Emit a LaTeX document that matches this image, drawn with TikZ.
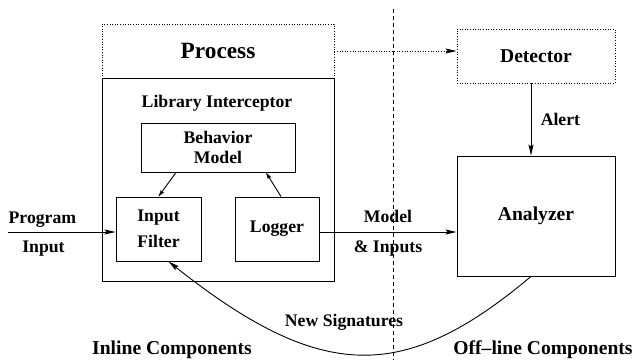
\documentclass[tikz,border=0pt]{standalone}
\usepackage{fontspec}
\setmainfont{Liberation Serif}
\usetikzlibrary{arrows.meta,positioning}

\begin{document}
\begin{tikzpicture}[
  x=1pt,
  y=-1pt,
  line width=0.9pt,
  font=\bfseries\fontsize{17.7}{20}\selectfont,
  box/.style 2 args={
    draw,
    minimum width=#1,
    minimum height=#2,
    inner sep=0pt,
    align=center
  },
  dotbox/.style={
    dash pattern=on 0.8pt off 1.8pt
  },
  bigtext/.style={
    font=\bfseries\fontsize{19.6}{22}\selectfont
  },
  flow/.style={
    -{Stealth[length=11pt,width=5pt,inset=2pt]}
  },
  smallflow/.style={
    -{Stealth[length=7pt,width=4pt,inset=1.5pt]}
  }
]
  \useasboundingbox (0,0) rectangle (634,360);
  \node[box={232pt}{54pt}, dotbox] (process) at (218,51)
    {\fontsize{23.3}{26}\selectfont Process};
  \node[box={232pt}{203pt}] (interceptor) at (218,179.5) {};
  \node (libtitle) at (217,103) {Library Interceptor};
  \node[box={154pt}{49pt}] (behavior) at (218,147.5) {Behavior\\Model};
  \node[box={85pt}{64pt}] (filter) at (158.5,229) {Input\\[6pt]Filter};
  \node[box={84pt}{64pt}] (logger) at (277,229) {Logger};
  \node[box={158pt}{54pt}, dotbox, bigtext] (detector) at (536,56) {Detector};
  \node[box={158pt}{120pt}, bigtext] (analyzer) at (536,216) {Analyzer};

  \coordinate (divtop) at (393,9);
  \coordinate (divbot) at (393,360);
  \draw[dash pattern=on 4pt off 3pt] (divtop) -- (divbot);

  \draw[flow, dotbox] (process.east) -- (process.east -| detector.west);
  \draw[flow] ([xshift=-5pt]detector.south) -- ([xshift=-5pt]analyzer.north)
    node[midway, anchor=west, xshift=6pt] {Alert};
  \draw[smallflow] ([xshift=-42pt]behavior.south) -- (filter.north);
  \draw[smallflow] ([xshift=4pt]logger.north) -- ([xshift=48pt]behavior.south);

  \coordinate (progin) at (8,232);
  \draw[flow] (progin) -- (progin -| filter.west)
    node[pos=.32, above=1pt] {Program}
    node[pos=.33, below=5pt] {Input};
  \draw[flow] (logger.east |- progin) -- (analyzer.west |- progin)
    node[midway, above=6pt] {Model}
    node[midway, below=5pt] {\& Inputs};

  \draw[flow] ([xshift=-5pt]analyzer.south)
    .. controls (404,383) and (322,383) .. ([xshift=10pt]filter.south);
  \node (newsig) at (344,322) {New Signatures};

  \node[bigtext] (inline) at (172,350) {Inline Components};
  \node[bigtext] (offline) at (543,350) {Off--line Components};
\end{tikzpicture}
\end{document}
